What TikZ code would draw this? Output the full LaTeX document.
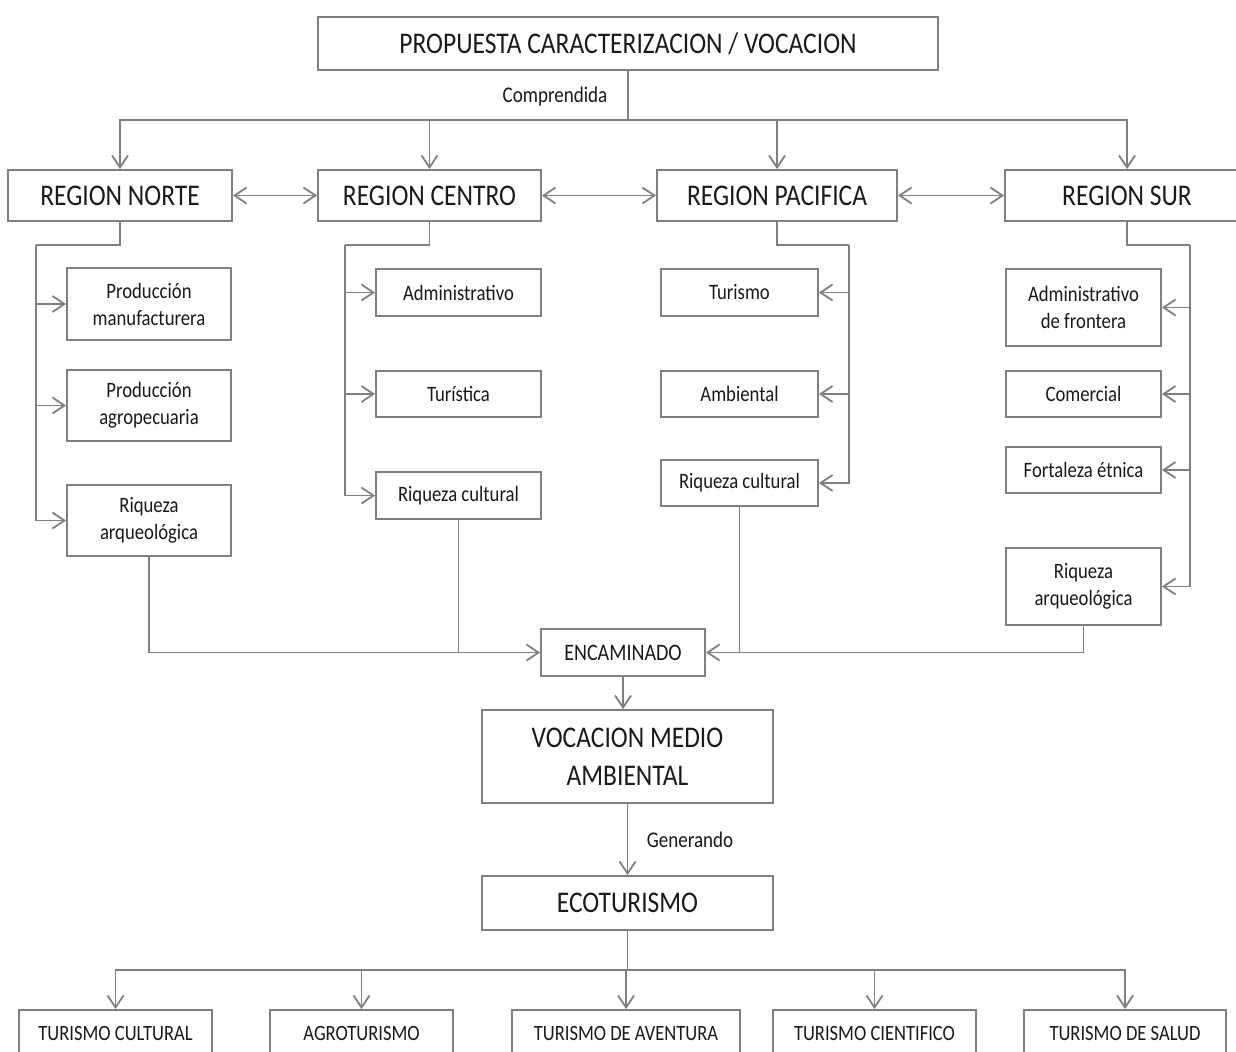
\documentclass[tikz,border=0pt]{standalone}
\usepackage{fontspec}
\setmainfont{Carlito}[FakeStretch=0.85]
\usetikzlibrary{arrows.meta}
\definecolor{linegray}{HTML}{808080}
\definecolor{txt}{HTML}{1A1A1A}
\begin{document}
\begin{tikzpicture}[x=0.5pt,y=-0.5pt,
  box/.style={draw=linegray, line width=0.9pt, fill=white, inner sep=0pt, align=center, text=txt},
  big/.style={font=\fontsize{15}{19}\selectfont},
  small/.style={font=\fontsize{11}{13.5}\selectfont},
  bot/.style={font=\fontsize{10.9}{13}\selectfont},
  lbl/.style={text=txt, inner sep=0pt, font=\fontsize{11.2}{13.5}\selectfont},
  ln/.style={draw=linegray, line width=0.9pt},
  arr/.style={ln, -{Straight Barb[length=6pt,width=8pt]}},
  darr/.style={ln, {Straight Barb[length=6pt,width=8pt]}-{Straight Barb[length=6pt,width=8pt]}}]
\useasboundingbox (0,0) rectangle (1236,1051);
\fill[white] (0,0) rectangle (1236,1051);
% top
\node[box,big,minimum width=310pt,minimum height=26.5pt] (top) at (628,43.5) {PROPUESTA CARACTERIZACION / VOCACION};
% regions
\node[box,big,minimum width=112pt,minimum height=25.5pt] (norte) at (120,195.5) {REGION NORTE};
\node[box,big,minimum width=111.5pt,minimum height=25.5pt] (centro) at (429.5,195.5) {REGION CENTRO};
\node[box,big,minimum width=120pt,minimum height=25.5pt] (pacifica) at (777,195.5) {REGION PACIFICA};
\node[box,big,minimum width=122pt,minimum height=25.5pt] (sur) at (1127,195.5) {REGION SUR};
% norte children
\node[box,small,minimum width=82pt,minimum height=36pt] (n1) at (149,304) {Producción\\manufacturera};
\node[box,small,minimum width=82pt,minimum height=35.5pt] (n2) at (149,405.5) {Producción\\agropecuaria};
\node[box,small,minimum width=82pt,minimum height=35.5pt] (n3) at (149,520.5) {Riqueza\\arqueológica};
% centro children
\node[box,small,minimum width=82.5pt,minimum height=23.5pt] (c1) at (458.5,292.5) {Administrativo};
\node[box,small,minimum width=82.5pt,minimum height=23pt] (c2) at (458.5,394) {Turística};
\node[box,small,minimum width=82.5pt,minimum height=23.5pt] (c3) at (458.5,495.5) {Riqueza cultural};
% pacifica children
\node[box,small,minimum width=78.5pt,minimum height=23.5pt] (p1) at (739.5,292.5) {Turismo};
\node[box,small,minimum width=78.5pt,minimum height=23pt] (p2) at (739.5,394) {Ambiental};
\node[box,small,minimum width=78.5pt,minimum height=23pt] (p3) at (739.5,483) {Riqueza cultural};
% sur children
\node[box,small,minimum width=77.5pt,minimum height=38.5pt] (s1) at (1083.5,307.5) {Administrativo\\de frontera};
\node[box,small,minimum width=77.5pt,minimum height=23pt] (s2) at (1083.5,394) {Comercial};
\node[box,small,minimum width=77.5pt,minimum height=23pt] (s3) at (1083.5,470) {Fortaleza étnica};
\node[box,small,minimum width=77.5pt,minimum height=38.5pt] (s4) at (1083.5,586.5) {Riqueza\\arqueológica};
% lower chain
\node[box,font=\fontsize{11.8}{14}\selectfont,minimum width=82pt,minimum height=23.5pt] (enc) at (623,652.5) {ENCAMINADO};
\node[box,big,minimum width=145.5pt,minimum height=46.5pt] (voc) at (627.5,756.5) {VOCACION MEDIO\\AMBIENTAL};
\node[box,big,minimum width=145.5pt,minimum height=27pt] (eco) at (627.5,903) {ECOTURISMO};
% bottom row
\node[box,bot,minimum width=96.5pt,minimum height=23pt] (b1) at (115.5,1033) {TURISMO CULTURAL};
\node[box,bot,minimum width=91.5pt,minimum height=23pt] (b2) at (361.5,1033) {AGROTURISMO};
\node[box,bot,minimum width=114pt,minimum height=23pt] (b3) at (626,1033) {TURISMO DE AVENTURA};
\node[box,bot,minimum width=101.5pt,minimum height=23pt] (b4) at (874.5,1033) {TURISMO CIENTIFICO};
\node[box,bot,minimum width=101pt,minimum height=23pt] (b5) at (1125,1033) {TURISMO DE SALUD};
% labels
\node[lbl] (comp) at (555,97) {Comprendida};
\node[lbl] (gen) at (690,840) {Generando};
% top bus
\coordinate (bus1) at (628,120);
\draw[ln] (top.south) -- (bus1);
\draw[arr] (bus1) -| (norte.north);
\draw[arr] (bus1) -| (centro.north);
\draw[arr] (bus1) -| (pacifica.north);
\draw[arr] (bus1) -| (sur.north);
% region links
\draw[darr] (norte.east) -- (centro.west);
\draw[darr] (centro.east) -- (pacifica.west);
\draw[darr] (pacifica.east) -- (sur.west);
% norte tree
\coordinate (nj) at (36,245);
\draw[ln] (norte.south) |- (nj);
\draw[arr] (nj) |- (n1.west);
\draw[arr] (nj) |- (n2.west);
\draw[arr] (nj) |- (n3.west);
% centro tree
\coordinate (cj) at (345,245);
\draw[ln] (centro.south) |- (cj);
\draw[arr] (cj) |- (c1.west);
\draw[arr] (cj) |- (c2.west);
\draw[arr] (cj) |- (c3.west);
% pacifica tree
\coordinate (pj) at (849,245);
\draw[ln] (pacifica.south) |- (pj);
\draw[arr] (pj) |- (p1.east);
\draw[arr] (pj) |- (p2.east);
\draw[arr] (pj) |- (p3.east);
% sur tree
\coordinate (sj) at (1190,245);
\draw[ln] (sur.south) |- (sj);
\draw[arr] (sj) |- (s1.east);
\draw[arr] (sj) |- (s2.east);
\draw[arr] (sj) |- (s3.east);
\draw[arr] (sj) |- (s4.east);
% to ENCAMINADO
\draw[arr] (n3.south) |- (enc.west);
\draw[ln] (c3.south) -- (c3.south |- enc.west);
\draw[arr] (s4.south) |- (enc.east);
\draw[ln] (p3.south) -- (p3.south |- enc.east);
% chain
\draw[arr] (enc.south) -- (enc.south |- voc.north);
\draw[arr] (voc.south) -- (eco.north);
% bottom bus
\coordinate (bus2) at (627.5,970);
\draw[ln] (eco.south) -- (bus2);
\draw[arr] (bus2) -| (b1.north);
\draw[arr] (bus2) -| (b2.north);
\draw[arr] (bus2) -| (b3.north);
\draw[arr] (bus2) -| (b4.north);
\draw[arr] (bus2) -| (b5.north);
\end{tikzpicture}
\end{document}
